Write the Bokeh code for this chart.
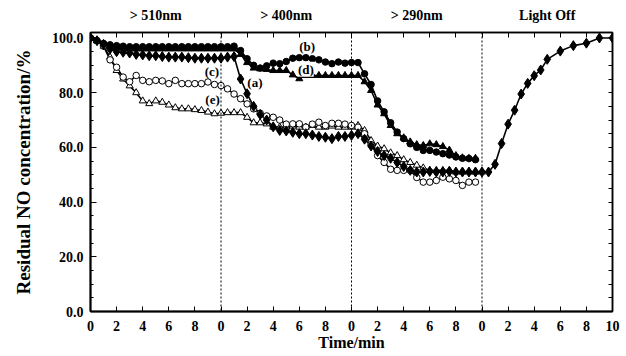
from bokeh.plotting import figure
from bokeh.models import LinearAxis, FixedTicker, Span, Label, Range1d
from bokeh.embed import file_html
from bokeh.resources import INLINE

# cumulative time axis (min): three 10-min irradiation periods, then 10 min light off
time_uv = [0, 0.5, 1, 1.5, 2, 2.5, 3, 3.5, 4, 4.5, 5, 5.5, 6, 6.5, 7, 7.5, 8, 8.5, 9, 9.5, 10,
           10.5, 11, 11.5, 12, 12.5, 13, 13.5, 14, 14.5, 15, 15.5, 16, 16.5, 17, 17.5, 18, 18.5, 19, 19.5, 20,
           20.5, 21, 21.5, 22, 22.5, 23, 23.5, 24, 24.5, 25, 25.5, 26, 26.5, 27, 27.5, 28, 28.5, 29, 29.5, 30]
time_dark = [30.5, 31, 31.5, 32, 32.5, 33, 33.5, 34, 34.5, 35, 36, 37, 38, 39, 40]

a_uv = [100, 99, 97.5, 96, 95, 94.8, 94.5, 94, 93.8, 93.5, 93.5, 93.2, 93, 93, 93, 92.8, 92.6, 92.6, 92.6, 92.6, 92.6,
        93, 93.2, 85, 79.6, 75, 72, 70, 67.5, 66.2, 66, 65.5, 65, 65, 64.5, 64, 63.7, 63.2, 64, 64, 64.4,
        65, 63, 60.5, 58.5, 57, 56, 54.5, 53, 51.6, 51, 51, 51.2, 51, 51, 51.2, 51, 51, 51, 51, 51]
a_dark = [51, 53.8, 61.4, 68.5, 73.6, 79.5, 83.4, 86.2, 88.3, 92.2, 95.2, 97.2, 98.1, 100, 100]

b_uv = [100, 99, 98, 97.5, 97.2, 97, 96.8, 96.8, 96.8, 96.8, 96.8, 96.8, 96.8, 96.8, 96.8, 96.8, 96.8, 96.8, 96.8, 96.8, 96.8,
        96.8, 97, 95.4, 92.4, 90, 89, 89.8, 90.8, 90.6, 91.4, 92.6, 92.8, 92.8, 92.4, 92, 91.2, 90.6, 91.2, 90.8, 91,
        91, 86.9, 83, 77, 73, 69, 65.6, 63.2, 61.3, 60, 58.9, 58.9, 58.3, 57.7, 57.2, 56.5, 56, 55.9, 55.5]

c_uv = [100, 99, 97, 92, 89.3, 85.7, 84, 86.3, 84.5, 84, 84.5, 84.3, 83.3, 84.5, 83.3, 83.3, 83.3, 83.3, 83.9, 83, 82.6,
        81.4, 79.5, 77.8, 75.9, 74.1, 72.5, 71.5, 71, 70, 68.5, 68.6, 68.6, 67.4, 68.5, 69.2, 68, 68.8, 68.8, 68.5, 68,
        67.4, 65, 61, 57, 54.5, 52, 51.6, 51.6, 51.6, 49, 47.3, 47.3, 47.9, 49.1, 48.5, 47.9, 46.1, 47.3, 47.3]

d_uv = [100, 99, 98, 97, 96.5, 96.3, 96, 96, 96, 96, 96, 96, 96, 96, 96, 96, 96, 96, 96, 96, 96,
        96, 96, 94, 91, 89, 88.7, 88.5, 88.1, 88.1, 88.1, 86.5, 85.1, 86.3, 86.3, 86.3, 86.3, 86.3, 86.3, 86.3, 86.3,
        86.3, 84, 80.8, 75.5, 72.3, 68, 65, 63.5, 62, 61, 60.7, 61.3, 61, 60.3, 59, 57, 56.2, 56, 56]

e_uv = [100, 99, 97, 93, 88.1, 85, 82.5, 80, 77, 76, 77, 76.5, 75.5, 74.5, 74.1, 74.1, 73.8, 73.5, 72.9, 72.3, 72.5,
        72.7, 72.7, 72.7, 71, 69, 69, 68.6, 67.4, 67.4, 67.4, 67.8, 67.4, 67.4, 68, 67.4, 67.4, 67.8, 67.4, 67.4, 67.4,
        68, 66.2, 62.5, 60.5, 59.5, 58, 57, 55.5, 54.5, 53.5, 52.5, 51.6, 51.6, 51.6, 51.6, 51, 51, 51, 51, 51]

x_ticks = [0, 2, 4, 6, 8, 10, 12, 14, 16, 18, 20, 22, 24, 26, 28, 30, 32, 34, 36, 38, 40]
x_tick_labels = ["0", "2", "4", "6", "8", "0", "2", "4", "6", "8", "0", "2", "4", "6", "8",
                 "0", "2", "4", "6", "8", "10"]
y_ticks = [0, 20, 40, 60, 80, 100]
y_tick_labels = ["0.0", "20.0", "40.0", "60.0", "80.0", "100.0"]
y_minor = [0, 5, 10, 15, 20, 25, 30, 35, 40, 45, 50, 55, 60, 65, 70, 75, 80, 85, 90, 95, 100]
period_centers = [5, 15, 25, 35]
period_labels = ["> 510nm", "> 400nm", "> 290nm", "Light Off"]
period_bounds = [10, 20, 30]
curve_names = ["(a)", "(b)", "(c)", "(d)", "(e)"]

FONT = "Liberation Serif"

p = figure(frame_width=522, frame_height=279, x_range=Range1d(0, 40), y_range=Range1d(0, 102),
           output_backend="svg", toolbar_location=None,
           min_border_left=90, min_border_right=10, min_border_top=32, min_border_bottom=43)
p.xgrid.visible = False
p.ygrid.visible = False
p.outline_line_color = "black"
p.outline_line_width = 1.5
p.background_fill_color = "white"
p.border_fill_color = "white"

xa = p.xaxis[0]
xa.ticker = FixedTicker(ticks=x_ticks)
xa.major_label_overrides = {t: l for t, l in zip(x_ticks, x_tick_labels)}
xa.major_tick_in = 5
xa.major_tick_out = 0
xa.minor_tick_line_color = None
xa.axis_line_width = 2
xa.major_label_text_font = FONT
xa.major_label_text_font_style = "bold"
xa.major_label_text_font_size = "14px"
xa.major_label_text_color = "black"
xa.major_label_standoff = 9
xa.axis_label = "Time/min"
xa.axis_label_text_font = FONT
xa.axis_label_text_font_style = "bold"
xa.axis_label_text_font_size = "16px"
xa.axis_label_text_color = "black"
xa.axis_label_standoff = 0

ya = p.yaxis[0]
ya.ticker = FixedTicker(ticks=y_ticks, minor_ticks=y_minor)
ya.major_label_overrides = {t: l for t, l in zip(y_ticks, y_tick_labels)}
ya.major_tick_in = 6
ya.major_tick_out = 0
ya.minor_tick_in = 3
ya.minor_tick_out = 0
ya.axis_line_width = 2
ya.major_label_text_font = FONT
ya.major_label_text_font_style = "bold"
ya.major_label_text_font_size = "14px"
ya.major_label_text_color = "black"
ya.major_label_standoff = 7
ya.axis_label = "Residual NO concentration/%"
ya.axis_label_text_font = FONT
ya.axis_label_text_font_style = "bold"
ya.axis_label_text_font_size = "19px"
ya.axis_label_text_color = "black"
ya.axis_label_standoff = 15

top = LinearAxis(ticker=FixedTicker(ticks=period_centers, minor_ticks=x_ticks))
top.major_label_overrides = {t: l for t, l in zip(period_centers, period_labels)}
top.major_tick_line_color = None
top.minor_tick_in = 5
top.minor_tick_out = 0
top.axis_line_width = 1.5
top.major_label_text_font = FONT
top.major_label_text_font_style = "bold"
top.major_label_text_font_size = "14px"
top.major_label_text_color = "black"
top.major_label_standoff = 4
p.add_layout(top, "above")

right = LinearAxis(ticker=FixedTicker(ticks=[], minor_ticks=y_minor))
right.minor_tick_in = 4
right.minor_tick_out = 0
right.axis_line_width = 1.5
right.major_label_text_font_size = "0px"
right.major_label_standoff = 0
p.add_layout(right, "right")

for b in period_bounds:
    p.add_layout(Span(location=b, dimension="height", line_color="black",
                      line_width=1, line_dash="2 2"))

LW = 1.6
a_x = time_uv + time_dark
a_y = a_uv + a_dark
t60 = time_uv[:60]

p.line(time_uv, e_uv, line_color="black", line_width=LW)
p.line(t60, c_uv, line_color="black", line_width=LW)
p.line(t60, d_uv, line_color="black", line_width=LW)
p.line(t60, b_uv, line_color="black", line_width=LW)
p.line(a_x, a_y, line_color="black", line_width=LW)

p.scatter(time_uv, e_uv, marker="triangle", size=7, fill_color="white", line_color="black", line_width=1)
p.scatter(t60, c_uv, marker="circle", size=6.5, fill_color="white", line_color="black", line_width=1)
p.scatter(t60, d_uv, marker="triangle", size=7, fill_color="black", line_color="black")
p.scatter(t60, b_uv, marker="circle", size=6.5, fill_color="black", line_color="black")
p.scatter(a_x, a_y, marker="diamond", size=10, fill_color="black", line_color="black")

label_x = [12.6, 16.6, 9.3, 16.5, 9.35]
label_y = [83.7, 96.9, 87.7, 88.6, 77.6]
for nm, lx, ly in zip(curve_names, label_x, label_y):
    p.add_layout(Label(x=lx, y=ly, text=nm, text_align="center", text_baseline="middle",
                       text_font=FONT, text_font_style="bold", text_font_size="13px",
                       text_color="black",
                       background_fill_color="white" if nm == "(d)" else None))

open("out.html", "w").write(file_html(p, INLINE))
